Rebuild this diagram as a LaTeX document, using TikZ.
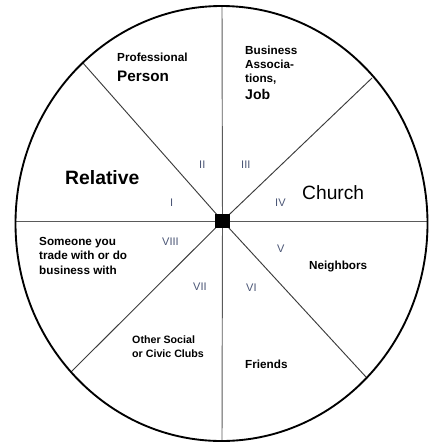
\documentclass[tikz,border=0pt]{standalone}
\usepackage{fontspec}
\setmainfont{Liberation Sans}
\usepackage{xcolor}
\usepackage{tikz}
\definecolor{ink}{HTML}{000000}
\definecolor{axisgray}{HTML}{5A5A5A}
\definecolor{spokegray}{HTML}{3C3C3C}
\definecolor{numblue}{HTML}{4A5575}
\tikzset{
  rim/.style={draw=ink, line width=1.6pt},
  axis/.style={draw=axisgray, line width=0.8pt},
  spoke/.style={draw=spokegray, line width=0.8pt},
  hub/.style={rectangle, fill=ink, minimum size=0.44cm, inner sep=0pt},
  lab/.style={anchor=base west, inner sep=0pt, align=left, text=ink,
    font=\bfseries\fontsize{10}{12.3}\selectfont},
  num/.style={anchor=base west, inner sep=0pt, text=numblue,
    font=\fontsize{9.4}{11}\selectfont},
}

\begin{document}
\begin{tikzpicture}[x=0.03cm,y=-0.03cm]
  \useasboundingbox (0,0) rectangle (437,444);
  \coordinate (C) at (221.5,223.5);
  \node[hub] (hub) at (222.5,221) {};

  % ends of the spokes on the rim
  \coordinate (N) at (222,6);
  \coordinate (S) at (222,441);
  \coordinate (W) at (15,221);
  \coordinate (E) at (427,221);
  \coordinate (NW) at (83,63);
  \coordinate (NE) at (372,78);
  \coordinate (SW) at (71,372);
  \coordinate (SE) at (366,377);

  \foreach \e in {N,S,W,E} \draw[axis] (hub.center) -- (\e);
  \foreach \e in {NW,NE,SW,SE} \draw[spoke] (hub.center) -- (\e);
  \draw[rim] (C) ellipse [x radius=206, y radius=217.5];
  \node[hub] at (hub) {};

  % sector names (multi-line ones sit on their last baseline)
  \node[lab] (prof) at (117,61) {Professional};
  \node[lab, font=\bfseries\fontsize{13}{15}\selectfont] (person) at (117,81) {Person};
  \node[lab, font=\bfseries\fontsize{16.5}{19}\selectfont] (relative) at (65,184) {Relative};
  \node[lab, font=\bfseries\fontsize{10}{11.9}\selectfont] (busi) at (245,82) {Business\\Associa-\\tions,};
  \node[lab, font=\bfseries\fontsize{12}{14}\selectfont] (job) at (245,99) {Job};
  \node[lab, font=\fontsize{16.4}{19}\selectfont] (church) at (302,199) {Church};
  \node[lab] (trade) at (39,274) {Someone you\\trade with or do\\business with};
  \node[lab] (neigh) at (309,269) {Neighbors};
  \node[lab, font=\bfseries\fontsize{9.1}{11.9}\selectfont] (clubs) at (132,357) {Other Social\\or Civic Clubs};
  \node[lab] (friends) at (245,368) {Friends};

  % sector numbers
  \node[num] (n1) at (170,206) {I};
  \node[num] (n2) at (199,168) {II};
  \node[num] (n3) at (241,168) {III};
  \node[num] (n4) at (275,206) {IV};
  \node[num] (n5) at (277,252) {V};
  \node[num] (n6) at (246,291) {VI};
  \node[num] (n7) at (193,290) {VII};
  \node[num] (n8) at (162,245) {VIII};
\end{tikzpicture}
\end{document}
